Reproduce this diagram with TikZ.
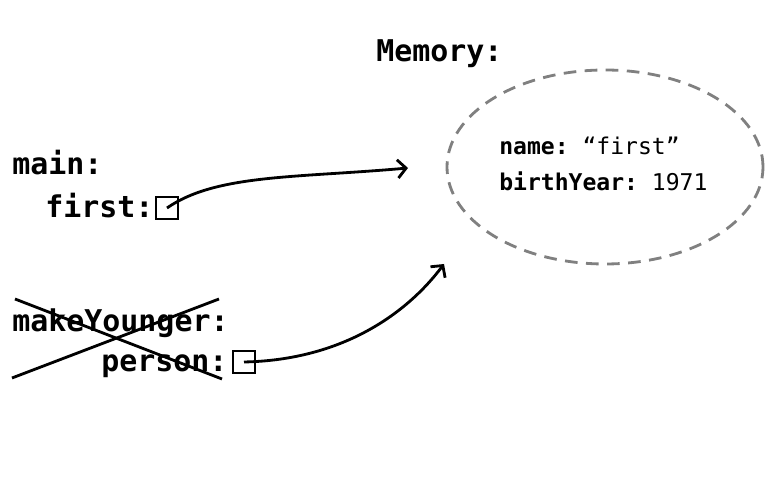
\documentclass[tikz,border=0pt]{standalone}
\usepackage{fontspec}
\setmonofont{DejaVu Sans Mono}
\usetikzlibrary{positioning}
\usetikzlibrary{arrows.meta,shapes.geometric}

\begin{document}
\begin{tikzpicture}[
  every node/.style = {inner sep=0pt, anchor=base west},
  label/.style = {font=\ttfamily\bfseries\fontsize{21.3}{24}\selectfont},
  field/.style = {font=\ttfamily\fontsize{16.4}{20}\selectfont},
  ref/.style = {draw, line width=1.7pt, minimum size=0.55cm, anchor=center},
  pointer/.style = {draw, line width=2pt, -{Straight Barb[length=6pt,width=13pt,line width=2pt]}}
  ]
  \useasboundingbox (0,0) rectangle (19.5,12.5);
  \node[label] (memory) at (9.4,10.95) {Memory:};
  \node[draw=gray, dashed, dash pattern=on 9pt off 6pt, line width=2pt,
    ellipse, minimum width=7.9cm, minimum height=4.85cm, anchor=center]
    (obj) at (15.125,8.325) {};
  \node[field] (name) at (12.475,8.625) {\textbf{name:} “first”};
  \node[field] (year) at (12.475,7.725) {\textbf{birthYear:} 1971};

  \node[label] (main) at (0.3,8.125) {main:};
  \node[label] (first) at (1.125,7.05) {first:};
  \node[ref] (firstbox) at (4.175,7.3) {};

  \node[label] (younger) at (0.3,4.2) {makeYounger:};
  \node[label] (person) at (2.525,3.2) {person:};
  \node[ref] (personbox) at (6.1,3.45) {};

  % stack frame that has returned
  \coordinate (xa) at (0.375,5.025);
  \coordinate (xb) at (5.55,3.025);
  \coordinate (xc) at (0.3,3.05);
  \coordinate (xd) at (5.475,5.025);
  \draw[line width=2pt] (xa) -- (xb);
  \draw[line width=2pt] (xc) -- (xd);

  \coordinate (tipa) at (10.2,8.3);
  \coordinate (tipb) at (11.1,5.9);
  \draw[pointer] (firstbox.center) .. controls (5.4,8.15) and (7.4,8.05) .. (tipa);
  \draw[pointer] (personbox.center) .. controls (8.6,3.5) and (10.2,4.7) .. (tipb);
\end{tikzpicture}
\end{document}
